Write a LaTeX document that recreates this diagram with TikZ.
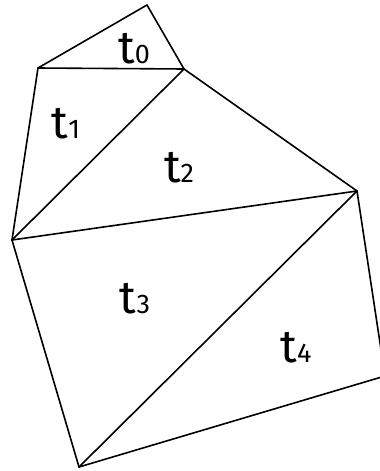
\documentclass[tikz,border=0pt]{standalone}
\usepackage{fontspec}
\setmainfont{Fira Sans}
\newcommand{\tlab}[1]{\fontsize{46}{46}\selectfont t\fontsize{27}{27}\selectfont #1}
\begin{document}
\begin{tikzpicture}[x=1pt,y=-1pt,
  edge/.style={line width=1.6pt, line join=round, line cap=round},
  lab/.style={anchor=base, inner sep=0pt}]
\useasboundingbox (0,0) rectangle (380,471);
\clip (0,0) rectangle (380,471);
\coordinate (A) at (147,5);
\coordinate (B) at (38,68);
\coordinate (C) at (184,69);
\coordinate (D) at (357,191);
\coordinate (E) at (12,240);
\coordinate (F) at (79,467);
\coordinate (G) at (385,376);
\draw[edge] (A) -- (B);
\draw[edge] (A) -- (C);
\draw[edge] (B) -- (C);
\draw[edge] (B) -- (E);
\draw[edge] (C) -- (E);
\draw[edge] (C) -- (D);
\draw[edge] (E) -- (D);
\draw[edge] (E) -- (F);
\draw[edge] (F) -- (D);
\draw[edge] (D) -- (G);
\draw[edge] (F) -- (G);
\node[lab] (l0) at (134,63) {\tlab{0}};
\node[lab] (l1) at (66,138) {\tlab{1}};
\node[lab] (l2) at (179,182) {\tlab{2}};
\node[lab] (l3) at (135,313) {\tlab{3}};
\node[lab] (l4) at (296,362) {\tlab{4}};
\end{tikzpicture}
\end{document}
